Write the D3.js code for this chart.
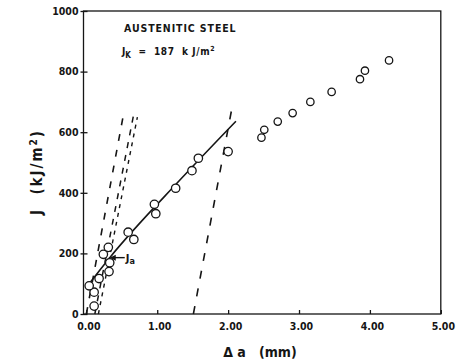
<!DOCTYPE html>
<html><head><meta charset="utf-8">
<script src="https://cdn.jsdelivr.net/npm/d3@7"></script>
<style>
html,body{margin:0;padding:0;background:#fff;}
svg{display:block;}
text{font-family:"DejaVu Sans Condensed","DejaVu Sans",sans-serif;font-weight:bold;fill:#151515;}
</style></head>
<body>
<svg id="c" width="466" height="362"></svg>
<script>
// ---- data ----
const xTicks = [0, 1, 2, 3, 4, 5];
const xTickLabels = ["0.00", "1.00", "2.00", "3.00", "4.00", "5.00"];
const yTicks = [0, 200, 400, 600, 800, 1000];
const yTickLabels = ["0", "200", "400", "600", "800", "1000"];
// measured points: crack extension Δa (mm), J (kJ/m²)
const da = [0.11, 0.11, 0.04, 0.18, 0.32, 0.33, 0.24, 0.31, 0.59, 0.67, 0.96, 0.98, 1.26, 1.49, 1.58, 2.00, 2.47, 2.51, 2.70, 2.91, 3.16, 3.46, 3.86, 3.93, 4.27];
const J  = [26, 72, 93, 117, 140, 169, 197, 220, 270, 246, 362, 331, 415, 473, 514, 536, 582, 608, 635, 663, 700, 733, 775, 803, 837];
// fitted R-curve (solid)
const fitDa = [0.00, 0.33, 1.32, 2.11];
const fitJ  = [88, 186, 442, 636];
// blunting / offset lines (dashed)
const bluntA = [[0.00, 0], [0.525, 660]];
const bluntB = [[0.12, 0], [0.665, 655]];
const bluntC = [[0.17, 0], [0.72, 650]];
const offsetD = [[1.51, 0], [2.07, 700]];
const JaPoint = [0.33, 186];
const title = "AUSTENITIC STEEL";

// ---- layout ----
const svg = d3.select("#c");
const L = 83.5, R = 440.8, T = 11, B = 314;
const x = d3.scaleLinear().domain([-0.04, 5]).range([L, R]);
const y = d3.scaleLinear().domain([0, 1000]).range([B, T]);
const ink = "#151515";

// frame
svg.append("rect").attr("x", L).attr("y", T).attr("width", R - L).attr("height", B - T)
  .attr("fill", "none").attr("stroke", ink).attr("stroke-width", 1.3);

// x axis
const xa = svg.append("g").attr("transform", `translate(0,${B})`)
  .call(d3.axisBottom(x).tickValues(xTicks).tickSizeInner(-4).tickSizeOuter(0)
    .tickFormat((d, i) => xTickLabels[i]));
xa.select(".domain").remove();
xa.selectAll("line").attr("stroke", ink).attr("stroke-width", 1.3);
xa.selectAll("text").attr("dy", null).attr("y", 16).attr("dx", 2).attr("font-size", 10.5)
  .style("font-family", "'DejaVu Sans Condensed','DejaVu Sans',sans-serif").style("font-weight", "bold").attr("fill", ink);

// y axis
const ya = svg.append("g").attr("transform", `translate(${L},0)`)
  .call(d3.axisLeft(y).tickValues(yTicks).tickSizeInner(4).tickSizeOuter(0)
    .tickFormat((d, i) => yTickLabels[i]));
ya.select(".domain").remove();
ya.selectAll("line").attr("stroke", ink).attr("stroke-width", 1.3).attr("x2", 4).attr("x1", -3);
ya.selectAll("text").attr("x", -5).attr("font-size", 10.5)
  .style("font-family", "'DejaVu Sans Condensed','DejaVu Sans',sans-serif").style("font-weight", "bold").attr("fill", ink);

// dashed lines
const line = d3.line().x(d => x(d[0])).y(d => y(d[1]));
svg.append("path").attr("d", line(bluntA)).attr("fill", "none").attr("stroke", ink)
  .attr("stroke-width", 1.6).attr("stroke-dasharray", "7,9");
svg.append("path").attr("d", line(bluntB)).attr("fill", "none").attr("stroke", ink)
  .attr("stroke-width", 1.5).attr("stroke-dasharray", "6,7");
svg.append("path").attr("d", line(bluntC)).attr("fill", "none").attr("stroke", ink)
  .attr("stroke-width", 1.4).attr("stroke-dasharray", "4,5");
svg.append("path").attr("d", line(offsetD)).attr("fill", "none").attr("stroke", ink)
  .attr("stroke-width", 1.6).attr("stroke-dasharray", "8,10");

// fitted curve
const fit = fitDa.map((d, i) => [d, fitJ[i]]);
svg.append("path").attr("d", d3.line().x(d => x(d[0])).y(d => y(d[1])).curve(d3.curveMonotoneX)(fit))
  .attr("fill", "none").attr("stroke", ink).attr("stroke-width", 1.6);

// points
svg.append("g").selectAll("circle").data(da.map((d, i) => [d, J[i]])).join("circle")
  .attr("cx", d => x(d[0])).attr("cy", d => y(d[1])).attr("r", d => d[0] < 2.2 ? 4.2 : 3.7)
  .attr("fill", "#fff").attr("stroke", ink).attr("stroke-width", 1.3);

// Ja arrow
const tx = x(JaPoint[0]), ty = y(JaPoint[1]);
svg.append("line").attr("x1", tx + 3).attr("y1", ty).attr("x2", tx + 15).attr("y2", ty)
  .attr("stroke", ink).attr("stroke-width", 1.4);
svg.append("path").attr("d", `M${tx},${ty} L${tx + 6},${ty - 3} L${tx + 6},${ty + 3} Z`).attr("fill", ink);
const ja = svg.append("text").attr("x", tx + 16).attr("y", ty + 4).attr("font-size", 11);
ja.append("tspan").text("J");
ja.append("tspan").attr("dy", 2).attr("font-size", 9).text("a");

// annotations
svg.append("text").attr("x", 124).attr("y", 32).attr("font-size", 10.5)
  .attr("letter-spacing", 0.9).text(title);
const jk = svg.append("text").attr("x", 122).attr("y", 55).attr("font-size", 10)
  .attr("xml:space", "preserve");
jk.append("tspan").text("J");
jk.append("tspan").attr("dy", 3).attr("font-size", 8).text("K");
jk.append("tspan").attr("dy", -3).attr("letter-spacing", 0.6).text("  =  187  k J/m");
jk.append("tspan").attr("dy", -4).attr("font-size", 7).text("2");

// axis titles
const yt = svg.append("text").attr("transform", "translate(42,172) rotate(-90)")
  .attr("text-anchor", "middle").attr("font-size", 15).attr("xml:space", "preserve")
  .attr("letter-spacing", 2);
yt.append("tspan").text("J  (kJ/m");
yt.append("tspan").attr("dy", -5).attr("font-size", 10).text("2");
yt.append("tspan").attr("dy", 5).text(")");
svg.append("text").attr("x", 260).attr("y", 357).attr("text-anchor", "middle")
  .attr("font-size", 14).attr("xml:space", "preserve").text("Δ a   (mm)");
</script>
</body></html>
